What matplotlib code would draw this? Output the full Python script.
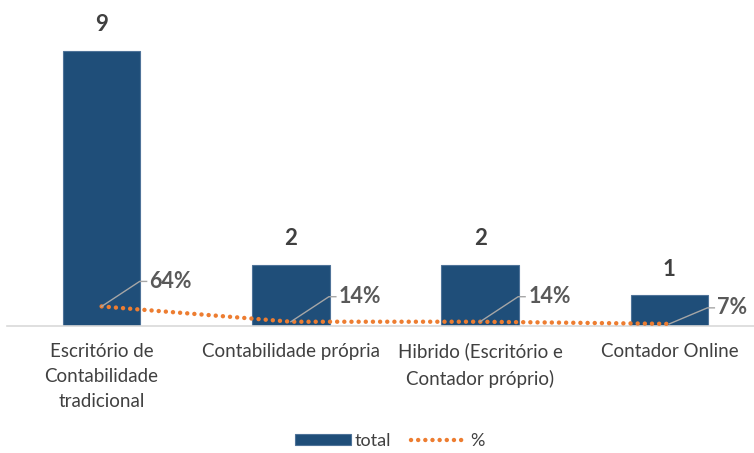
import matplotlib.pyplot as plt
from matplotlib.lines import Line2D
from matplotlib.transforms import IdentityTransform
import numpy as np

categories = ["Escritório de\nContabilidade\ntradicional", "Contabilidade própria",
              "Hibrido (Escritório e\nContador próprio)", "Contador Online"]
totals = [9, 2, 2, 1]
shares = [0.64, 0.14, 0.14, 0.07]
share_labels = ["64%", "14%", "14%", "7%"]

bar_color = "#1F4E79"
line_color = "#ED7D31"
text_color = "#404040"

plt.rcParams['font.family'] = ['Lato', 'DejaVu Sans']

fig = plt.figure(figsize=(7.54, 4.53), dpi=100)
# plot area runs a little past the right edge, like the original layout
ax = fig.add_axes([7 / 754, 127 / 453, 757 / 754, 306 / 453])

x = np.arange(len(categories))
bars = ax.bar(x, totals, width=0.41, color=bar_color, edgecolor="#4F7399",
              linewidth=0.8, zorder=2, label="total")
line, = ax.plot(x, shares, color=line_color, linestyle=(0, (0.01, 1.6)),
                linewidth=3.2, dash_capstyle='round', zorder=3, label="%")

ax.set_xlim(-0.5, 3.5)
ax.set_ylim(0, 10)

# value labels above bars
for xi, v in zip(x, totals):
    ax.annotate(str(v), (xi, v), xytext=(0, 19), textcoords="offset points",
                ha="center", va="center", fontsize=16, fontweight="bold",
                color=text_color)

# percentage labels with leader lines (offsets in pixels)
offsets = [(38, 25), (38, 25), (38, 25), (38, 16)]
for xi, v, lab, (dx, dy) in zip(x, shares, share_labels, offsets):
    px, py = ax.transData.transform((xi, v))
    leader = Line2D([px, px + dx, px + dx + 7], [py, py + dy, py + dy],
                    color="#A6A6A6", lw=1, transform=IdentityTransform(),
                    zorder=4)
    fig.add_artist(leader)
    fig.text((px + dx + 10) / 754, (py + dy) / 453, lab, ha="left",
             va="center", fontsize=15.5, fontweight="bold", color="#595959")

ax.set_xticks(x)
ax.set_xticklabels(categories, fontsize=13.5, color=text_color, linespacing=1.6,
                   va="top")
ax.tick_params(axis="x", length=0, pad=12)
ax.set_yticks([])
for side in ["top", "right", "left"]:
    ax.spines[side].set_visible(False)
ax.spines["bottom"].set_color("#D9D9D9")
ax.spines["bottom"].set_linewidth(1.2)

fig.legend(handles=[bars, line], labels=["total", "%"], loc="center",
           bbox_to_anchor=(390 / 754, 1 - 441 / 453), ncol=2, frameon=False,
           fontsize=13, labelcolor=text_color, handlelength=3.1,
           handleheight=0.6, columnspacing=1.1, handletextpad=0.2,
           borderpad=0.1)

fig.savefig("out.png", dpi=100)
